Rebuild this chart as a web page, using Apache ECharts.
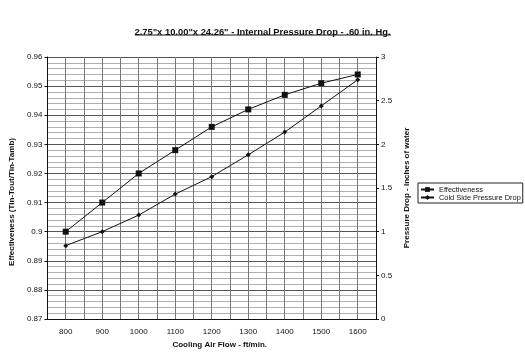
<!DOCTYPE html>
<html>
<head>
<meta charset="utf-8">
<script src="https://cdn.jsdelivr.net/npm/echarts@6/dist/echarts.min.js"></script>
<style>html,body{margin:0;padding:0;background:#fff;}#c{width:525px;height:359px;}</style>
</head>
<body>
<div id="c"></div>
<script>
var airFlow = [800, 900, 1000, 1100, 1200, 1300, 1400, 1500, 1600];
var effectiveness = [0.900, 0.910, 0.920, 0.928, 0.936, 0.942, 0.947, 0.951, 0.954];
var pressureDrop = [0.84, 1.00, 1.19, 1.43, 1.63, 1.88, 2.14, 2.44, 2.74];
var titleText = '2.75"x 10.00"x 24.26" - Internal Pressure Drop - .60 in. Hg.';

var chart = echarts.init(document.getElementById('c'));
var F = 'Liberation Sans, Arial, sans-serif';
chart.setOption({
  animation: false,
  backgroundColor: '#fff',
  title: {
    text: titleText, left: 'center', top: 23,
    textStyle: {fontFamily: F, fontSize: 9.4, fontWeight: 'bold', color: '#111'}
  },
  graphic: [{type: 'line', shape: {x1: 135, y1: 35, x2: 391, y2: 35}, style: {stroke: '#111', lineWidth: 1}}],
  legend: {
    orient: 'vertical', left: 418, top: 183, padding: [3, 2, 2, 2], itemGap: 1,
    borderColor: '#222', borderWidth: 1, itemWidth: 13, itemHeight: 6,
    textStyle: {fontFamily: F, fontSize: 7.4, color: '#111'},
    data: ['Effectiveness', 'Cold Side Pressure Drop']
  },
  grid: {left: 42, right: 149, top: 57, bottom: 40, containLabel: false},
  xAxis: {
    type: 'value', min: 750, max: 1650, interval: 50,
    name: 'Cooling Air Flow - ft/min.', nameLocation: 'middle', nameGap: 22,
    nameTextStyle: {fontFamily: F, fontSize: 8, fontWeight: 'bold', color: '#111', padding: [0, 0, 0, 16]},
    axisLine: {lineStyle: {color: '#111', width: 1}},
    axisTick: {show: false},
    axisLabel: {fontFamily: F, fontSize: 8, color: '#111', margin: 9,
      formatter: function (v) { return (v % 100 === 0) ? String(v) : ''; }},
    splitLine: {show: true, lineStyle: {color: '#777', width: 1}}
  },
  yAxis: [{
    type: 'value', min: 0.87, max: 0.96, interval: 0.01,
    name: 'Effectiveness (Tin-Tout/Tin-Tamb)', nameLocation: 'middle', nameGap: 27,
    nameTextStyle: {fontFamily: F, fontSize: 8, fontWeight: 'bold', color: '#111', padding: [0, 28, 0, 0]},
    axisLine: {show: true, lineStyle: {color: '#111', width: 1}},
    axisTick: {show: true, length: 3, lineStyle: {color: '#111'}},
    axisLabel: {fontFamily: F, fontSize: 8, color: '#111', margin: 5,
      formatter: function (v) { return String(+v.toFixed(2)); }},
    splitLine: {show: true, lineStyle: {color: '#555', width: 1}},
    minorTick: {show: false, splitNumber: 5},
    minorSplitLine: {show: true, lineStyle: {color: '#b0b0b0', width: 1}}
  }, {
    type: 'value', min: 0, max: 3, interval: 0.5, position: 'right',
    name: 'Pressure Drop - Inches of water', nameLocation: 'middle', nameGap: 20,
    nameTextStyle: {fontFamily: F, fontSize: 8, fontWeight: 'bold', color: '#111'},
    axisLine: {show: true, lineStyle: {color: '#111', width: 1}},
    axisTick: {show: true, length: 3, lineStyle: {color: '#111'}},
    axisLabel: {fontFamily: F, fontSize: 8, color: '#111', margin: 5},
    splitLine: {show: false}
  }],
  series: [{
    name: 'Effectiveness', type: 'line', yAxisIndex: 0,
    data: airFlow.map(function (x, i) { return [x, effectiveness[i]]; }),
    symbol: 'rect', symbolSize: 6,
    lineStyle: {color: '#111', width: 1}, itemStyle: {color: '#111'}
  }, {
    name: 'Cold Side Pressure Drop', type: 'line', yAxisIndex: 1,
    data: airFlow.map(function (x, i) { return [x, pressureDrop[i]]; }),
    symbol: 'diamond', symbolSize: 5,
    lineStyle: {color: '#111', width: 1}, itemStyle: {color: '#111'}
  }]
});
</script>
</body>
</html>
